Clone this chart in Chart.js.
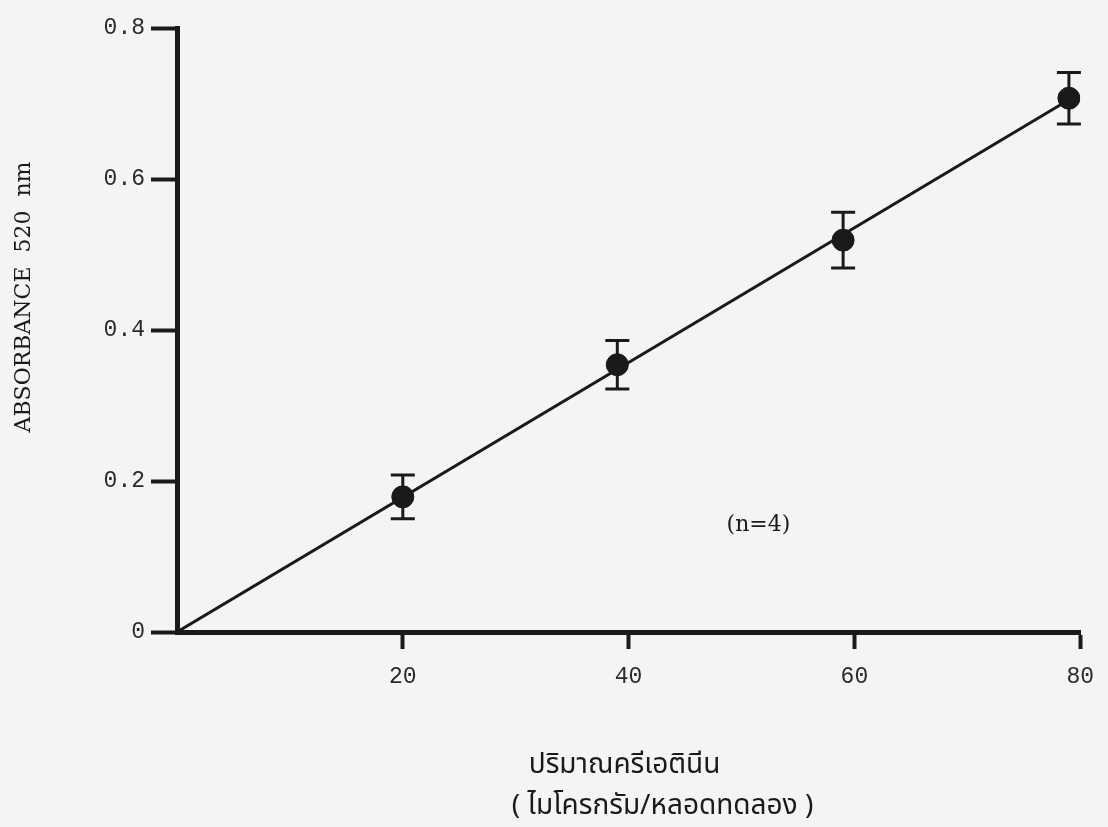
<!DOCTYPE html>
<html>
<head>
<meta charset="utf-8">
<script src="https://cdn.jsdelivr.net/npm/chart.js@4.4.0/dist/chart.umd.min.js"></script>
<style>
  body { margin: 0; background: #f4f4f2; }
  #wrap { width: 1108px; height: 827px; }
</style>
</head>
<body>
<div id="wrap"><canvas id="myChart" width="1108" height="827"></canvas></div>
<script>
// creatinine amount (ug/tube) vs absorbance at 520 nm
const amounts = [20, 39, 59, 79];
const absorbance = [0.179, 0.354, 0.519, 0.707];
const errors = [0.029, 0.032, 0.037, 0.034];

// regression line through origin
const fitX = [0, 79];
const fitY = [0, 0.705];

const xTicks = [20, 40, 60, 80];
const yTicks = [0, 0.2, 0.4, 0.6, 0.8];

const yTitle = "ABSORBANCE  520  nm";
const xTitle1 = "ปริมาณครีเอตินีน";
const xTitle2 = "( ไมโครกรัม/หลอดทดลอง )";
const note = "(n=4)";
const noteAt = [51.5, 0.142];

const ink = "#1a1a1a";

const extras = {
  id: "extras",
  beforeDraw(chart) {
    const c = chart.ctx;
    c.save();
    c.fillStyle = "#f4f4f2";
    c.fillRect(0, 0, chart.width, chart.height);
    c.restore();
  },
  afterDatasetsDraw(chart) {
    const c = chart.ctx;
    const x = chart.scales.x, y = chart.scales.y;
    c.save();
    c.strokeStyle = ink;
    c.lineWidth = 3;
    amounts.forEach((v, i) => {
      const px = x.getPixelForValue(v);
      const top = y.getPixelForValue(absorbance[i] + errors[i]);
      const bot = y.getPixelForValue(absorbance[i] - errors[i]);
      c.beginPath();
      c.moveTo(px, top); c.lineTo(px, bot);
      c.moveTo(px - 12, top); c.lineTo(px + 12, top);
      c.moveTo(px - 12, bot); c.lineTo(px + 12, bot);
      c.stroke();
    });
    c.restore();
  },
  afterDraw(chart) {
    const c = chart.ctx;
    const x = chart.scales.x, y = chart.scales.y;
    const area = chart.chartArea;
    c.save();
    c.fillStyle = ink;
    c.textAlign = "center";
    c.textBaseline = "middle";

    c.font = "22px 'DejaVu Serif', serif";
    c.fillText(note, x.getPixelForValue(noteAt[0]), y.getPixelForValue(noteAt[1]));

    c.save();
    c.translate(24, 297);
    c.rotate(-Math.PI / 2);
    c.font = "22px 'DejaVu Serif', serif";
    c.fillText(yTitle, 0, 0);
    c.restore();

    const cx = (area.left + area.right) / 2;
    c.font = "28px 'Noto Sans Thai', 'Noto Sans', sans-serif";
    c.fillText(xTitle1, cx - 4, 767);
    c.fillText(xTitle2, cx + 34, 808);
    c.restore();
  }
};

const ctx = document.getElementById("myChart").getContext("2d");

const myChart = new Chart(ctx, {
  type: "scatter",
  data: {
    datasets: [
      {
        type: "line",
        data: fitX.map((v, i) => ({ x: v, y: fitY[i] })),
        borderColor: ink,
        borderWidth: 3,
        pointRadius: 0,
        fill: false
      },
      {
        data: amounts.map((v, i) => ({ x: v, y: absorbance[i] })),
        backgroundColor: ink,
        borderColor: ink,
        pointRadius: 11
      }
    ]
  },
  options: {
    responsive: false,
    animation: false,
    layout: { padding: { left: 0, right: 16, top: 28, bottom: 0 } },
    plugins: { legend: { display: false }, tooltip: { enabled: false } },
    scales: {
      x: {
        type: "linear",
        min: 0,
        max: 80,
        afterBuildTicks: (axis) => { axis.ticks = xTicks.map(v => ({ value: v })); },
        afterFit: (axis) => { axis.height = 195; },
        border: { color: ink, width: 5 },
        grid: { drawOnChartArea: false, tickLength: 17, tickWidth: 4, color: ink },
        ticks: {
          color: "#2a2a2a",
          padding: 14,
          font: { family: "'Liberation Mono', monospace", size: 23 }
        }
      },
      y: {
        min: 0,
        max: 0.8,
        afterBuildTicks: (axis) => { axis.ticks = yTicks.map(v => ({ value: v })); },
        afterFit: (axis) => { axis.width = 177; },
        border: { color: ink, width: 5 },
        grid: { drawOnChartArea: false, tickLength: 26, tickWidth: 4, color: ink },
        ticks: {
          color: "#2a2a2a",
          padding: 6,
          font: { family: "'Liberation Mono', monospace", size: 23 },
          callback: (v) => v === 0 ? "0" : v.toFixed(1)
        }
      }
    }
  },
  plugins: [extras]
});
</script>
</body>
</html>
